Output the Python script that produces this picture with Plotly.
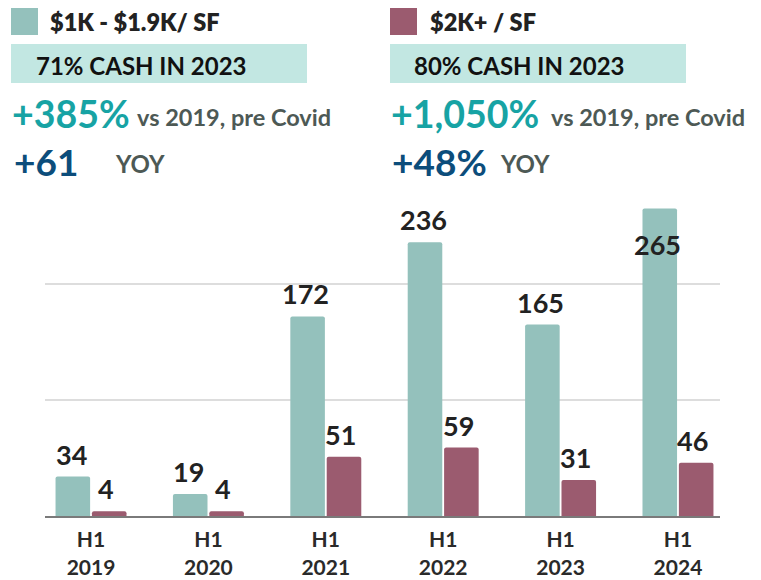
import plotly.graph_objects as go

categories = ["H1<br>2019", "H1<br>2020", "H1<br>2021", "H1<br>2022", "H1<br>2023", "H1<br>2024"]
mid_values = [34, 19, 172, 236, 165, 265]
high_values = [4, 4, 51, 59, 31, 46]
series_names = ["$1K - $1.9K/ SF", "$2K+ / SF"]
cash_notes = ["71% CASH IN 2023", "80% CASH IN 2023"]
vs2019 = ["+385%", "+1,050%"]
yoy = ["+61", "+48%"]

# page body has an 8px default margin; keep the figure inside the viewport
OFF = 8
W, H = 761 - OFF, 580 - OFF
L, T = 45 - OFF, 194 - OFF
PW, PH = 675, 322
R = W - L - PW
B = H - T - PH

TEAL = "#94C1BC"
MAROON = "#9B5B6F"
BAND = "#C2E7E2"
C_PCT = "#17A3A4"
C_NAVY = "#0C4D7B"
C_GREY = "#4D5955"
C_DARK = "#222222"
FONT = "Lato"


def px(x):
    return (x - OFF - L) / PW


def py(y):
    return (T + PH - (y - OFF)) / PH


fig = go.Figure()
fig.add_trace(go.Bar(x=categories, y=mid_values, name=series_names[0],
                     marker=dict(color=TEAL, line=dict(width=0)), showlegend=False))
fig.add_trace(go.Bar(x=categories, y=high_values, name=series_names[1],
                     marker=dict(color=MAROON, line=dict(width=0)), showlegend=False))

ymax = 277.6
annotations = []
for vals, xs in ((mid_values, -20), (high_values, 15)):
    for c, v in zip(categories, vals):
        inside = v > ymax - 25
        annotations.append(dict(
            x=c, y=v, xref="x", yref="y", text=str(v), showarrow=False,
            xshift=xs, yshift=(-17 if inside else 4),
            yanchor=("top" if inside else "bottom"),
            font=dict(family=FONT, size=27, color=C_DARK, weight=700)))

shapes = []
blocks = [
    dict(sq_x=11, sq_c=TEAL, name_x=50, band_x0=11, band_x1=307, note_x=36,
         pct_x=12, vs_x=137, yoy_x=14, yoylab_x=115),
    dict(sq_x=390, sq_c=MAROON, name_x=430, band_x0=390, band_x1=686, note_x=414,
         pct_x=391, vs_x=551, yoy_x=392, yoylab_x=500),
]
for i, b in enumerate(blocks):
    shapes.append(dict(type="rect", xref="paper", yref="paper",
                       x0=px(b["sq_x"]), x1=px(b["sq_x"] + 27), y0=py(35), y1=py(8),
                       fillcolor=b["sq_c"], line=dict(width=0), layer="above"))
    shapes.append(dict(type="rect", xref="paper", yref="paper",
                       x0=px(b["band_x0"]), x1=px(b["band_x1"]), y0=py(83), y1=py(44),
                       fillcolor=BAND, line=dict(width=0), layer="above"))
    annotations.append(dict(xref="paper", yref="paper", x=px(b["name_x"] - 2), y=py(22),
                            xanchor="left", yanchor="middle", showarrow=False,
                            text=series_names[i],
                            font=dict(family=FONT, size=23.5, color=C_DARK, weight=800)))
    annotations.append(dict(xref="paper", yref="paper", x=px(b["note_x"] - 2), y=py(65),
                            xanchor="left", yanchor="middle", showarrow=False,
                            text=cash_notes[i],
                            font=dict(family=FONT, size=24, color="#111111", weight=700)))
    annotations.append(dict(xref="paper", yref="paper", x=px(b["pct_x"] - 2), y=py(114),
                            xanchor="left", yanchor="middle", showarrow=False,
                            text=vs2019[i],
                            font=dict(family=FONT, size=37.5, color=C_PCT, weight=700)))
    annotations.append(dict(xref="paper", yref="paper", x=px(b["vs_x"] - 2), y=py(117),
                            xanchor="left", yanchor="middle", showarrow=False,
                            text="vs 2019, pre Covid",
                            font=dict(family=FONT, size=23.5, color=C_GREY, weight=700)))
    annotations.append(dict(xref="paper", yref="paper", x=px(b["yoy_x"] - 2), y=py(161),
                            xanchor="left", yanchor="middle", showarrow=False,
                            text=yoy[i],
                            font=dict(family=FONT, size=37, color=C_NAVY, weight=700)))
    annotations.append(dict(xref="paper", yref="paper", x=px(b["yoylab_x"] - 2), y=py(163),
                            xanchor="left", yanchor="middle", showarrow=False,
                            text="YOY",
                            font=dict(family=FONT, size=24, color=C_GREY, weight=700)))

fig.update_layout(
    width=W, height=H,
    margin=dict(l=L, r=R, t=T, b=B, pad=0, autoexpand=False),
    paper_bgcolor="white", plot_bgcolor="white",
    barmode="group", bargap=0.38, bargroupgap=0.05, barcornerradius=2,
    font=dict(family=FONT, color=C_DARK),
    xaxis=dict(range=[-0.392, 5.358], showgrid=False, showline=True, automargin=False,
               linecolor="#7A7A7A", linewidth=2, ticks="", ticklabelstandoff=4,
               tickfont=dict(family=FONT, size=21, color="#2A2A2A", weight=700)),
    yaxis=dict(range=[0, ymax], dtick=100, showgrid=True, gridcolor="#DDDDDD",
               gridwidth=2, showticklabels=False, zeroline=False, showline=False,
               automargin=False),
    annotations=annotations,
    shapes=shapes,
)

fig.write_html("out.html")
